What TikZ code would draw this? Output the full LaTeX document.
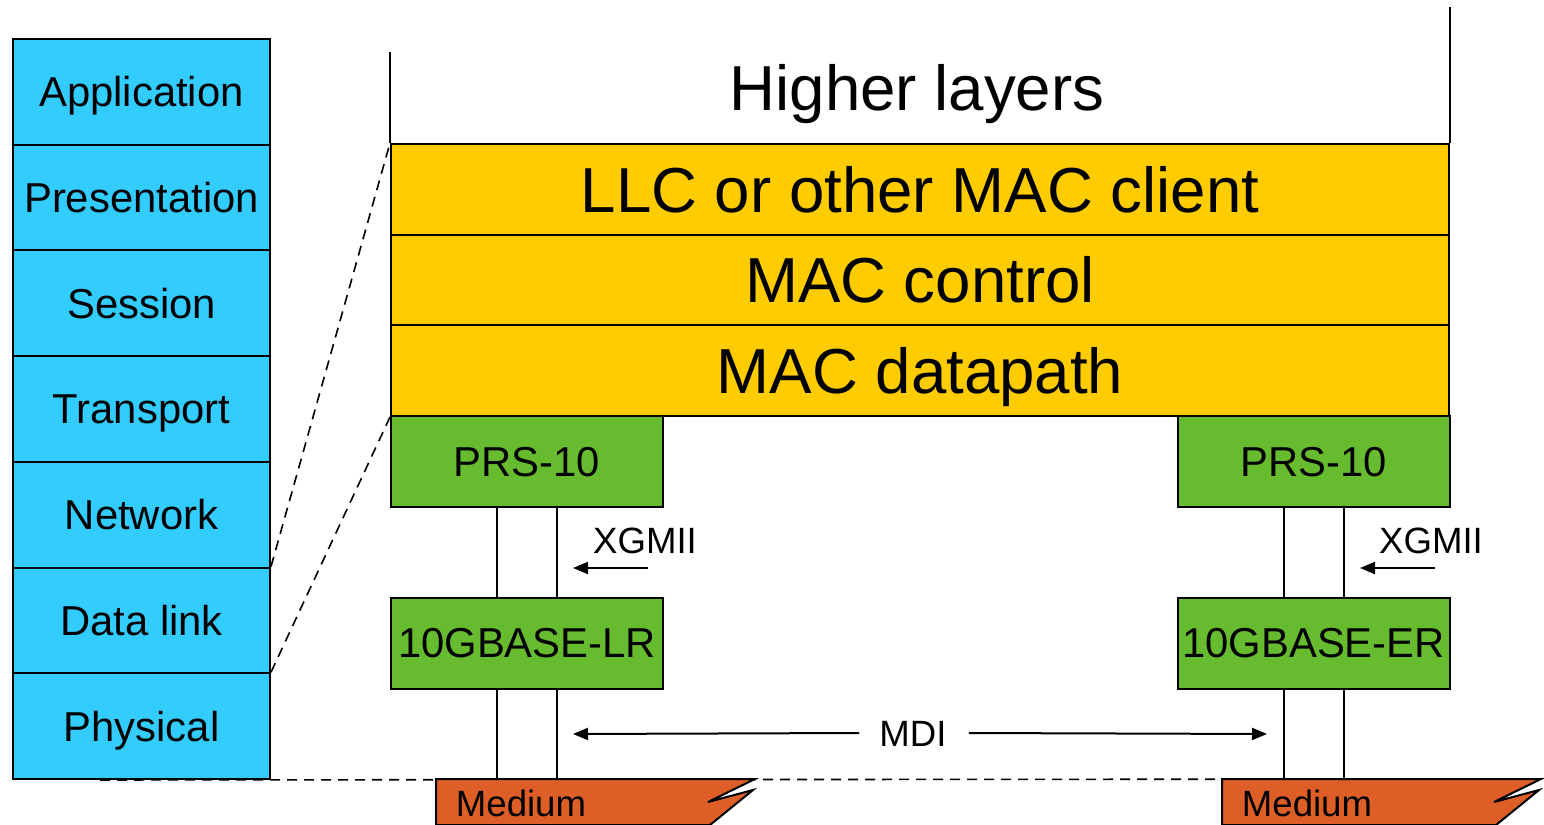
\documentclass[tikz,border=0pt]{standalone}
\usepackage{fontspec}
\setmainfont{Liberation Sans}
\usetikzlibrary{arrows.meta}
\definecolor{osiblue}{HTML}{33CCFF}
\definecolor{macyellow}{HTML}{FFCC00}
\definecolor{phygreen}{HTML}{66BB2E}
\definecolor{medorange}{HTML}{DD5F27}
\tikzset{
  every layer/.style={draw=black, line width=1pt, inner sep=0pt, text depth=0pt},
  osi/.style={every layer, fill=osiblue, minimum width=128.5pt, minimum height=52.86pt,
    text height=14.96pt, font=\fontsize{20.9}{24}\selectfont},
  mac/.style={every layer, fill=macyellow, minimum width=529pt, minimum height=45.33pt,
    text height=22.77pt, font=\fontsize{31.8}{36}\selectfont},
  phy/.style={every layer, fill=phygreen, minimum width=136pt, minimum height=45.5pt,
    text height=14.96pt, font=\fontsize{20.9}{24}\selectfont},
  small label/.style={inner sep=0pt, text height=13.1pt, text depth=0pt,
    font=\fontsize{18.3}{22}\selectfont},
  link/.style={line width=1pt},
  zoomline/.style={line width=0.8pt, dash pattern=on 5pt off 3.5pt},
  medium/.style={draw=black, line width=1pt, fill=medorange},
}

\begin{document}
\begin{tikzpicture}[x=0.5pt, y=-0.5pt, >={Triangle[length=7.5pt,width=6pt]}]
\useasboundingbox (0,0) rectangle (1544,825);

% OSI stack
\foreach \l [count=\i] in {Application,Presentation,Session,Transport,Network,Data link,Physical}
  \node [osi] (osi-\i) at (141.5,{39+105.71*\i-52.86}) {\l};

% MAC layers
\foreach \l/\n [count=\i] in {LLC or other MAC client/llc,MAC control/ctrl,MAC datapath/data}
  \node [mac] (\n) at (920,{144+90.67*\i-45.33}) {\l};

\node [inner sep=0pt, text height=22.77pt, text depth=0pt, font=\fontsize{31.8}{36}\selectfont]
  (higher) at (917,88) {Higher layers};
\draw [link] (llc.north west) -- ++(0,-91);
\draw [link] (llc.north east) -- ++(0,-136);

% PHY boxes
\node [phy] (prs-l) at (527,461.5) {PRS-10};
\node [phy] (prs-r) at (1313.5,461.5) {PRS-10};
\node [phy] (pmd-l) at (527,643) {10GBASE-LR};
\node [phy] (pmd-r) at (1313.5,643) {10GBASE-ER};

% zoom lines
\draw [zoomline] (osi-6.north east) -- (llc.north west);
\draw [zoomline] (osi-7.north east) -- (data.south west);
\draw [zoomline] ([xshift=-20.75pt]osi-7.south) -- (1544,779);

% media
\foreach \s/\n in {0/l,786/r} {
  \filldraw [medium, shift={(\s,0)}] (436,779) -- (755,779) -- (708,802) -- (753,790)
    -- (710,825) -- (436,825) -- cycle;
  \coordinate (medtop-\n) at (436+\s,779);
  \node [small label] (medium-\n) at (521+\s,803) {Medium};
}

\foreach \n in {l,r}
  \foreach \s in {-15pt,15pt} {
    \draw [link] ([xshift=\s]prs-\n.south) -- ([xshift=\s]pmd-\n.north);
    \draw [link] ([xshift=\s]pmd-\n.south) -- ([xshift=\s]pmd-\n.south |- medtop-\n);
  }

% XGMII
\node [small label] (xg-l) at (645,540) {XGMII};
\node [small label] (xg-r) at (1431,540) {XGMII};
\coordinate (xa-l) at (648,568);
\coordinate (xb-l) at (573,568);
\coordinate (xa-r) at (1435,568);
\coordinate (xb-r) at (1360,568);
\draw [link,->] (xa-l) -- (xb-l);
\draw [link,->] (xa-r) -- (xb-r);

% MDI
\node [small label] (mdi) at (913,733) {MDI};
\coordinate (mdi-l) at (573,734);
\coordinate (mdi-r) at (1267,734);
\draw [link,->] ([xshift=-10pt]mdi.west) -- (mdi-l);
\draw [link,->] ([xshift=11pt]mdi.east) -- (mdi-r);

\end{tikzpicture}
\end{document}
